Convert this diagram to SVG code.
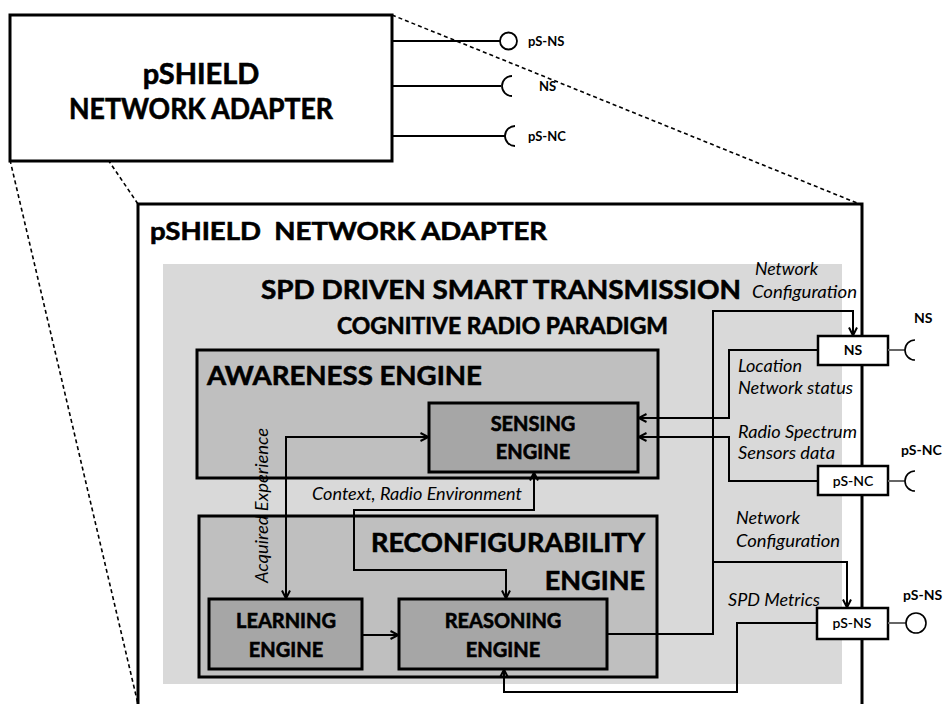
<svg xmlns="http://www.w3.org/2000/svg" width="945" height="704" viewBox="0 0 945 704">
<defs>
<style>
.box{stroke:#000;stroke-width:3}
.b{font-family:Lato,"Liberation Sans",sans-serif;font-weight:bold;fill:#000}
.h{stroke:#000;stroke-width:0.6}
.it{font-family:Lato,"Liberation Sans",sans-serif;font-style:italic;font-size:17px;fill:#000}
.c{fill:none;stroke:#000;stroke-width:2}
.d{fill:none;stroke:#000;stroke-width:1.6;stroke-dasharray:4 3}
.g{fill:none;stroke:#666;stroke-width:2}
</style>
<marker id="ah" viewBox="0 0 10 10" refX="9.5" refY="5" markerWidth="10" markerHeight="10" markerUnits="userSpaceOnUse" orient="auto-start-reverse">
<path d="M1,1 L9,5 L1,9" fill="none" stroke="#000" stroke-width="2"/>
</marker>
</defs>
<rect width="945" height="704" fill="#fff"/>

<g id="dashed">
<line class="d" x1="392" y1="15" x2="862" y2="205"/>
<line class="d" x1="10" y1="15" x2="138" y2="204"/>
<line class="d" x1="10" y1="160" x2="138" y2="704"/>
</g>

<g id="top-adapter">
<rect class="box" x="10" y="15" width="382" height="146" fill="#fff"/>
<text class="b h" x="201" y="84" font-size="29" text-anchor="middle">pSHIELD</text>
<text class="b h" x="69" y="119" font-size="29" textLength="264" lengthAdjust="spacingAndGlyphs">NETWORK ADAPTER</text>
</g>

<g id="top-interfaces">
<line class="c" x1="392" y1="41" x2="500" y2="41"/>
<circle cx="508.5" cy="41" r="8.5" fill="#fff" stroke="#000" stroke-width="1.8"/>
<text class="b" x="528" y="46" font-size="13">pS-NS</text>
<line class="c" x1="392" y1="86" x2="501" y2="86"/>
<path d="M512,76 A10,10 0 0 0 512,96" fill="none" stroke="#000" stroke-width="1.8"/>
<text class="b" x="539" y="91" font-size="13">NS</text>
<line class="c" x1="392" y1="136" x2="505" y2="136"/>
<path d="M515,126 A10,10 0 0 0 515,146" fill="none" stroke="#000" stroke-width="1.8"/>
<text class="b" x="528" y="141" font-size="13">pS-NC</text>
</g>

<g id="main-adapter">
<path d="M138,704 V204 H862 V704" fill="none" stroke="#000" stroke-width="3"/>
<text class="b h" x="150" y="240" font-size="25" textLength="397" lengthAdjust="spacingAndGlyphs" xml:space="preserve">pSHIELD  NETWORK ADAPTER</text>
</g>

<g id="spd-region">
<rect x="163" y="264" width="679" height="420" fill="#d9d9d9"/>
<text class="b h" x="261" y="299" font-size="27" textLength="480" lengthAdjust="spacingAndGlyphs">SPD DRIVEN SMART TRANSMISSION</text>
<text class="b h" x="337" y="334" font-size="23" textLength="331" lengthAdjust="spacingAndGlyphs">COGNITIVE RADIO PARADIGM</text>
</g>

<g id="awareness-engine">
<rect class="box" x="197" y="350" width="461" height="128" fill="#bfbfbf"/>
<text class="b h" x="207" y="385" font-size="27" textLength="275" lengthAdjust="spacingAndGlyphs">AWARENESS ENGINE</text>
</g>

<g id="sensing-engine">
<rect class="box" x="429" y="403" width="209" height="69" fill="#a6a6a6"/>
<text class="b h" x="533" y="431" font-size="20" text-anchor="middle">SENSING</text>
<text class="b h" x="533" y="459" font-size="20" text-anchor="middle">ENGINE</text>
</g>

<g id="reconfigurability-engine">
<rect class="box" x="199" y="516" width="458" height="161" fill="#bfbfbf"/>
<text class="b h" x="371" y="552" font-size="27" textLength="274" lengthAdjust="spacingAndGlyphs">RECONFIGURABILITY</text>
<text class="b h" x="645" y="590" font-size="27" text-anchor="end">ENGINE</text>
</g>

<g id="learning-engine">
<rect class="box" x="209" y="599" width="153" height="70" fill="#a6a6a6"/>
<text class="b h" x="286" y="628" font-size="20" text-anchor="middle">LEARNING</text>
<text class="b h" x="286" y="657" font-size="20" text-anchor="middle">ENGINE</text>
</g>

<g id="reasoning-engine">
<rect class="box" x="399" y="599" width="208" height="70" fill="#a6a6a6"/>
<text class="b h" x="503" y="628" font-size="20" text-anchor="middle">REASONING</text>
<text class="b h" x="503" y="657" font-size="20" text-anchor="middle">ENGINE</text>
</g>

<g id="connectors">
<path class="c" d="M286,599 V437 H429" marker-start="url(#ah)" marker-end="url(#ah)"/>
<path class="c" d="M534,472 V510 H354 V570 H506 V599" marker-start="url(#ah)" marker-end="url(#ah)"/>
<path class="c" d="M362,635 H399" marker-end="url(#ah)"/>
<path class="c" d="M607,634 H713 V311 H853 V336" marker-end="url(#ah)"/>
<path class="c" d="M713,562 H847 V608" marker-end="url(#ah)"/>
<path class="c" d="M818,350 H729 V418 H638" marker-end="url(#ah)"/>
<path class="c" d="M818,481 H729 V437 H638" marker-end="url(#ah)"/>
<path class="c" d="M817,623 H737 V692 H504 V669" marker-end="url(#ah)"/>
</g>

<g id="labels">
<text class="it" x="312" y="500" font-size="16" textLength="210" lengthAdjust="spacingAndGlyphs">Context, Radio Environment</text>
<text class="it" transform="translate(268,583) rotate(-90)" font-size="16" textLength="155" lengthAdjust="spacingAndGlyphs">Acquired Experience</text>
<text class="it" x="755" y="275" textLength="63" lengthAdjust="spacingAndGlyphs">Network</text>
<text class="it" x="752" y="298" textLength="105" lengthAdjust="spacingAndGlyphs">Configuration</text>
<text class="it" x="738" y="372" textLength="64" lengthAdjust="spacingAndGlyphs">Location</text>
<text class="it" x="738" y="394" textLength="115" lengthAdjust="spacingAndGlyphs">Network status</text>
<text class="it" x="738" y="438" textLength="119" lengthAdjust="spacingAndGlyphs">Radio Spectrum</text>
<text class="it" x="738" y="459" textLength="97" lengthAdjust="spacingAndGlyphs">Sensors data</text>
<text class="it" x="736" y="524" textLength="64" lengthAdjust="spacingAndGlyphs">Network</text>
<text class="it" x="736" y="547" textLength="104" lengthAdjust="spacingAndGlyphs">Configuration</text>
<text class="it" x="728" y="606" textLength="92" lengthAdjust="spacingAndGlyphs">SPD Metrics</text>
</g>

<g id="port-ns">
<rect x="818" y="336" width="70" height="29" fill="#fff" stroke="#000" stroke-width="2.5"/>
<text class="b" x="853" y="355" font-size="14" text-anchor="middle">NS</text>
<line class="g" x1="888" y1="350" x2="905" y2="350"/>
<path d="M915,340 A10,10 0 0 0 915,360" fill="none" stroke="#000" stroke-width="1.6"/>
<text class="b" x="914" y="323" font-size="14">NS</text>
</g>

<g id="port-ps-nc">
<rect x="818" y="466" width="70" height="29" fill="#fff" stroke="#000" stroke-width="2.5"/>
<text x="853" y="486" font-size="14" text-anchor="middle" font-family="Lato,'Liberation Sans',sans-serif" font-weight="600">pS-NC</text>
<line class="g" x1="888" y1="481" x2="905" y2="481"/>
<path d="M915,471 A10,10 0 0 0 915,491" fill="none" stroke="#000" stroke-width="1.6"/>
<text class="b" x="901" y="455" font-size="14">pS-NC</text>
</g>

<g id="port-ps-ns">
<rect x="817" y="608" width="71" height="31" fill="#fff" stroke="#000" stroke-width="2.5"/>
<text x="852" y="628" font-size="14" text-anchor="middle" font-family="Lato,'Liberation Sans',sans-serif" font-weight="600">pS-NS</text>
<line class="g" x1="888" y1="623" x2="906" y2="623"/>
<circle cx="916" cy="623" r="10" fill="#fff" stroke="#000" stroke-width="1.6"/>
<text class="b" x="903" y="600" font-size="14">pS-NS</text>
</g>
</svg>
